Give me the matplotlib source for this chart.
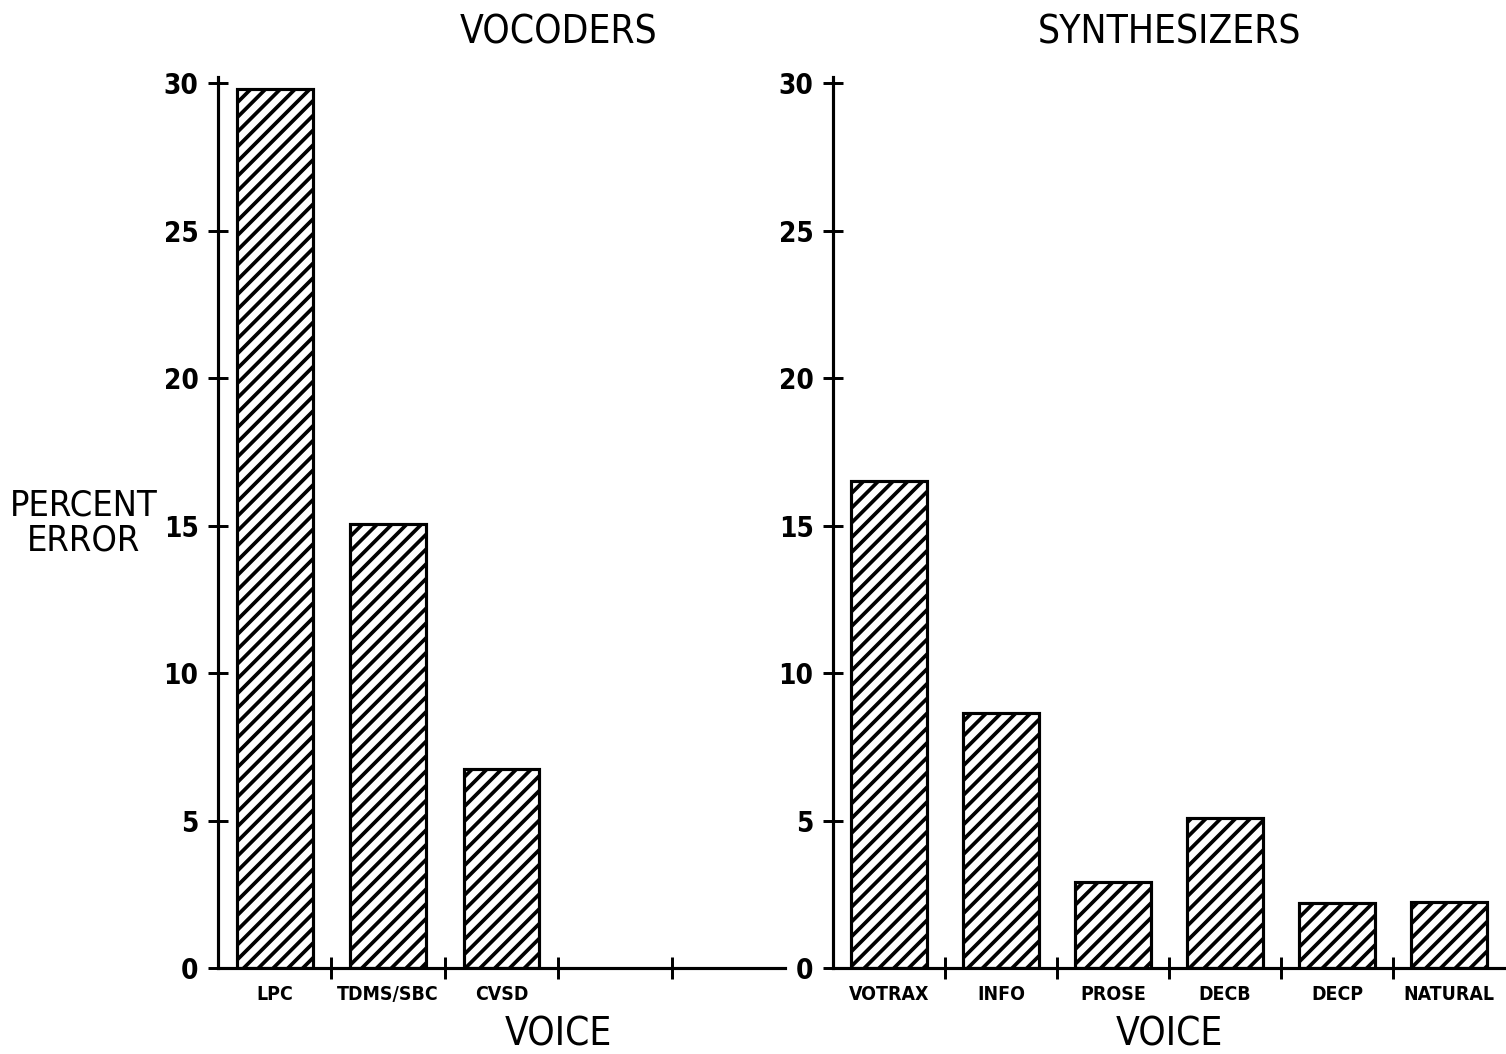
import matplotlib.pyplot as plt
import numpy as np

# data
vocoder_names = ["LPC", "TDMS/SBC", "CVSD"]
vocoder_err = [29.8, 15.05, 6.75]
synth_names = ["VOTRAX", "INFO", "PROSE", "DECB", "DECP", "NATURAL"]
synth_err = [16.5, 8.65, 2.9, 5.1, 2.2, 2.25]
y_ticks = [0, 5, 10, 15, 20, 25, 30]

DPI = 133
plt.rcParams['font.family'] = ['DejaVu Sans']
plt.rcParams['font.stretch'] = 'condensed'
plt.rcParams['hatch.linewidth'] = 2.0

fig = plt.figure(figsize=(1506 / DPI, 1054 / DPI), dpi=DPI)

ax1 = fig.add_axes([218 / 1506, 1 - 968 / 1054, 567 / 1506, 885 / 1054])
ax2 = fig.add_axes([833 / 1506, 1 - 968 / 1054, 672 / 1506, 885 / 1054])


def draw_panel(ax, names, vals, nslots):
    pos = np.arange(len(names)) + 0.5
    ax.bar(pos, vals, width=0.67, color="white", edgecolor="black",
           linewidth=1.7, hatch="///")
    ax.set_xlim(0, nslots)
    ax.set_ylim(0, 30)

    # boundary ticks without labels, category names between them
    ax.set_xticks(np.arange(1, nslots))
    ax.set_xticklabels([])
    ax.set_xticks(pos, minor=True)
    ax.set_xticklabels(names, minor=True, fontsize=10.5, fontweight="bold")
    ax.tick_params(axis="x", which="minor", length=0, pad=9)
    ax.tick_params(axis="x", which="major", direction="inout", length=12,
                   width=1.6)

    ax.set_yticks(y_ticks)
    ax.set_yticklabels([str(t) for t in y_ticks], fontsize=15,
                       fontweight="bold")
    ax.tick_params(axis="y", direction="inout", length=11, width=1.6, pad=5)

    for s in ["top", "right"]:
        ax.spines[s].set_visible(False)
    for s in ["left", "bottom"]:
        ax.spines[s].set_linewidth(1.7)
    ax.spines["left"].set_bounds(0, 30.2)


draw_panel(ax1, vocoder_names, vocoder_err, 5)
draw_panel(ax2, synth_names, synth_err, 6)

# titles and axis labels centred on slot boundary 3
for ax, title in [(ax1, "VOCODERS"), (ax2, "SYNTHESIZERS")]:
    xfig = fig.transFigure.inverted().transform(ax.transData.transform((3, 0)))[0]
    fig.text(xfig, 1 - 33 / 1054, title, fontsize=21, ha="center", va="center")
    fig.text(xfig, 1 - 1035 / 1054, "VOICE", fontsize=21, ha="center",
             va="center")

fig.text(84 / 1506, 1 - 523 / 1054, "PERCENT\nERROR", fontsize=19.5,
         ha="center", va="center", linespacing=1.05)

fig.savefig("out.png", dpi=DPI)
